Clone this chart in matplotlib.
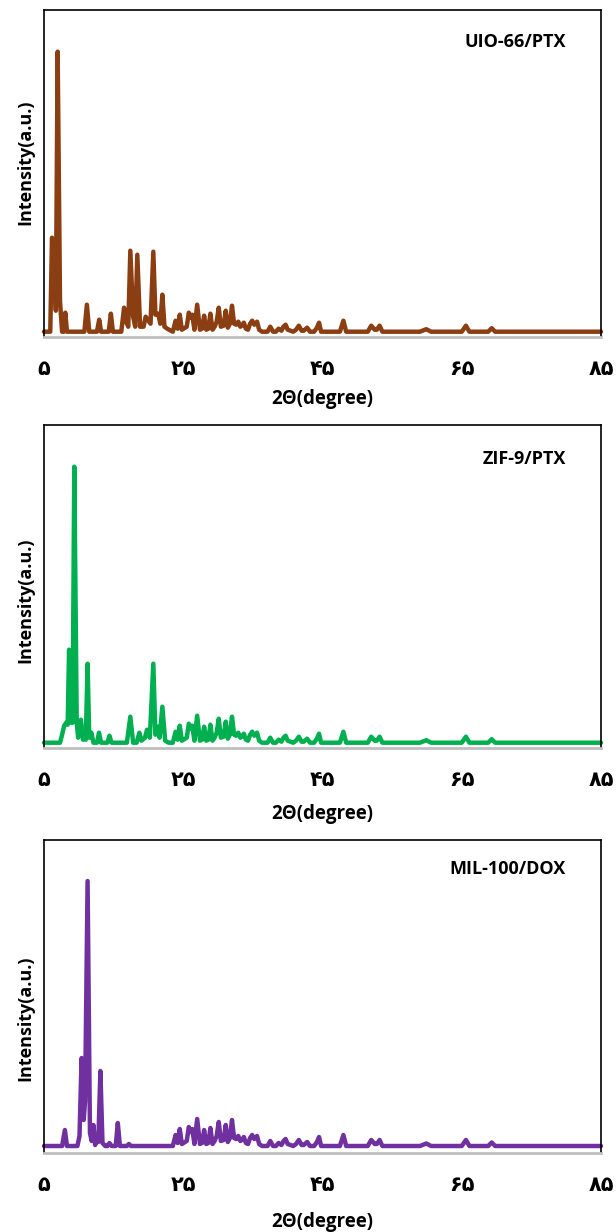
import matplotlib
matplotlib.use("Agg")
import matplotlib.pyplot as plt

# --- data (2theta in degrees, intensity in arbitrary units) ---
tick_pos = [5, 25, 45, 65, 85]
tick_lab = ["۵", "۲۵", "۴۵", "۶۵", "۸۵"]

# shared high-angle part of the patterns
tail_x = [23.5, 23.9, 24.2, 24.5, 24.8, 25.5, 25.8, 26.05, 26.3, 26.6, 27.0, 27.4, 27.7, 28.0,
          28.3, 28.6, 28.9, 29.2, 29.5, 29.8, 30.1, 30.4, 30.8, 31.1, 31.4, 31.7, 32.0, 32.3,
          32.6, 32.9, 33.2, 33.4, 33.7, 34.0, 34.3, 34.6, 34.9, 35.2, 35.6, 35.9, 36.3, 37.1,
          37.5, 37.9, 38.3, 38.7, 39.1, 39.4, 39.7, 40.0, 40.4, 40.8, 41.2, 41.6, 42.0, 42.3,
          42.8, 43.2, 43.8, 44.2, 44.5, 44.8, 47.5, 48.0, 48.4, 51.5, 52.0, 52.5, 52.8, 53.2,
          53.6, 59.0, 59.9, 60.6, 65.0, 65.6, 66.1, 68.8, 69.3, 69.8, 85.0]
tail_y = [0, 11, 3, 17, 2, 5, 19, 14, 17, 2, 27, 2, 3, 16,
          2, 3, 18, 2, 5, 10, 24, 5, 6, 21, 4, 8, 26, 8,
          7, 10, 5, 6, 9, 3, 2, 8, 11, 7, 10, 2, 0, 0,
          5, 0, 0, 3, 1, 5, 7, 2, 1, 0, 2, 6, 1, 1,
          4, 0, 0, 4, 9, 0, 0, 11, 0, 0, 6, 2, 2, 6,
          0, 0, 2.5, 0, 0, 6, 0, 0, 3.5, 0, 0]

# UIO-66/PTX low-angle part
uio_x = [5.0, 5.9, 6.15, 6.45, 6.7, 6.96, 7.3, 7.6, 7.85, 8.06, 8.3, 10.8, 11.16, 11.5,
         12.6, 12.93, 13.2, 14.3, 14.6, 14.9, 16.1, 16.5, 16.8, 17.1, 17.4, 17.8, 18.1,
         18.4, 18.8, 19.3, 19.6, 20.3, 20.7, 21.0, 21.4, 21.7, 22.0, 22.3, 22.7]
uio_y = [0, 0, 94, 80, 21, 280, 30, 0, 0, 19, 0, 0, 27, 0,
         0, 12, 0, 0, 18, 0, 0, 24, 10, 5, 81, 15, 5,
         77, 5, 5, 15, 8, 80, 17, 18, 8, 37, 5, 3]

# ZIF-9/PTX low-angle part
zif_x = [5.0, 7.3, 7.6, 7.9, 8.2, 8.4, 8.6, 8.9, 9.1, 9.35, 9.7, 9.9, 10.3, 10.6, 10.8, 11.0,
         11.26, 11.5, 11.8, 12.1, 12.6, 12.9, 13.2, 14.1, 14.4, 14.7, 16.9, 17.4, 17.8, 18.3,
         18.7, 19.0, 19.5, 19.8, 20.2, 20.7, 21.0, 21.4, 21.6, 22.0, 22.4, 22.9]
zif_y = [0, 0, 8, 17, 20, 18, 93, 20, 20, 276, 20, 5, 23, 3, 8, 3,
         79, 5, 10, 0, 0, 10, 0, 0, 7, 0, 0, 26, 0, 0,
         10, 2, 5, 13, 5, 79, 8, 16, 5, 36, 2, 0]

# MIL-100/DOX low-angle part
mil_x = [5.0, 7.6, 8.0, 8.3, 9.8, 10.1, 10.4, 10.7, 10.9, 11.26, 11.6, 11.85, 12.1, 12.35,
         12.6, 12.8, 13.1, 13.4, 13.8, 14.1, 14.4, 14.7, 15.3, 15.6, 15.9, 16.9, 17.2, 17.5,
         22.9]
mil_y = [0, 0, 16, 0, 0, 10, 88, 26, 45, 265, 13, 5, 21, 1,
         9, 4, 75, 3, 0, 0, 3, 0, 0, 23, 0, 0, 2, 0,
         0]

names = ["UIO-66/PTX", "ZIF-9/PTX", "MIL-100/DOX"]
colors = ["#8A3E12", "#00B050", "#7030A0"]
heads = [(uio_x, uio_y), (zif_x, zif_y), (mil_x, mil_y)]

# axes boxes in pixels (top, bottom) and y-limits
boxes = [(10, 337), (425, 748), (840, 1153)]
ylims = [(-5.3, 321.7), (-5.3, 317.7), (-7, 306)]
title_y = [0.902, 0.895, 0.907]
ylab_y = [0.535, 0.458, 0.43]
xlab_pad = [7, 10, 12]

W, H = 616, 1232
fig = plt.figure(figsize=(W / 100, H / 100), dpi=100)
fam = ["Open Sans", "DejaVu Sans"]

for i in range(3):
    top, bot = boxes[i]
    ax = fig.add_axes([44 / W, 1 - bot / H, (601 - 44) / W, (bot - top) / H])
    hx, hy = heads[i]
    ax.plot(hx + tail_x, hy + tail_y, color=colors[i], lw=3.2,
            solid_joinstyle="round", solid_capstyle="round", clip_on=False)
    ax.set_xlim(5, 85)
    ax.set_ylim(*ylims[i])
    ax.set_yticks([])
    ax.set_xticks(tick_pos)
    ax.set_xticklabels(tick_lab, fontsize=15, fontweight="bold", family="DejaVu Sans")
    ax.tick_params(axis="x", length=0, pad=16)
    for s in ["left", "top", "right"]:
        ax.spines[s].set_color("black")
        ax.spines[s].set_linewidth(1.2)
    ax.spines["bottom"].set_color("#BFBFBF")
    ax.spines["bottom"].set_linewidth(2)
    ax.set_xlabel("2Θ(degree)", fontsize=13.5, fontweight="bold", family=fam,
                  labelpad=xlab_pad[i])
    ax.set_ylabel("Intensity(a.u.)", fontsize=13, fontweight="bold", family=fam)
    ax.yaxis.set_label_coords(-0.018, ylab_y[i])
    ax.text(0.937, title_y[i], names[i], transform=ax.transAxes, ha="right", va="center",
            fontsize=13, fontweight="bold", family=fam)

fig.savefig("out.png", dpi=100)
